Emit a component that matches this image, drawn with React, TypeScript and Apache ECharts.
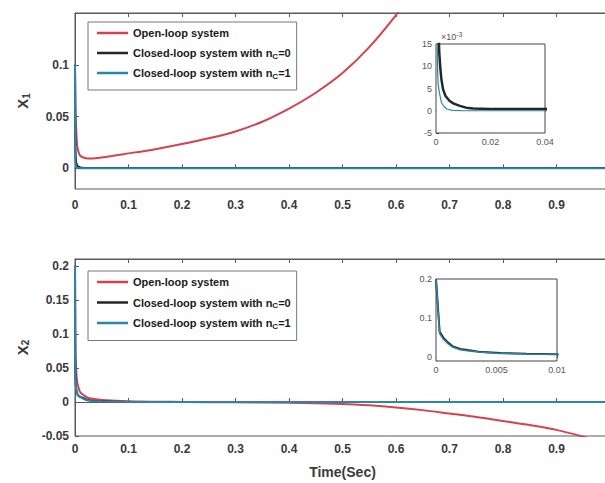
import React, { useEffect, useRef } from "react";
import * as echarts from "echarts";

// ---- data ----
const xTicks = [0, 0.1, 0.2, 0.3, 0.4, 0.5, 0.6, 0.7, 0.8, 0.9, 1];
const y1Ticks = [0, 0.05, 0.1];
const y2Ticks = [-0.05, 0, 0.05, 0.1, 0.15, 0.2];
const inset1XTicks = [0, 0.02, 0.04];
const inset1YTicks = [-0.005, 0, 0.005, 0.01, 0.015];
const inset2XTicks = [0, 0.005, 0.01];
const inset2YTicks = [0, 0.1, 0.2];

const seriesNames = [
  "Open-loop system",
  "Closed-loop system with nC=0",
  "Closed-loop system with nC=1",
];
const legendLabels = [
  "Open-loop system",
  "Closed-loop system with n{s|C}=0",
  "Closed-loop system with n{s|C}=1",
];

// x1 trajectories [t, value]
const openLoopX1 = [
  [0, 0.1], [0.001, 0.06], [0.002, 0.04], [0.004, 0.022], [0.007, 0.015],
  [0.01, 0.012], [0.02, 0.0098], [0.03, 0.0095], [0.05, 0.0105], [0.1, 0.0144],
  [0.15, 0.0185], [0.2, 0.0234], [0.25, 0.029], [0.3, 0.0356], [0.35, 0.045],
  [0.4, 0.0577], [0.45, 0.073], [0.5, 0.092], [0.55, 0.117], [0.6, 0.148], [0.62, 0.163],
];
const closedNc0X1 = [
  [0, 0.1], [0.0004, 0.04], [0.0008, 0.02], [0.0012, 0.013], [0.0016, 0.0095],
  [0.002, 0.007], [0.0026, 0.0048], [0.0035, 0.0033], [0.005, 0.0022], [0.0065, 0.0016],
  [0.0088, 0.0011], [0.011, 0.0007], [0.0136, 0.0005], [0.02, 0.0004], [0.04, 0.0004],
  [0.1, 0.0003], [0.5, 0.0002], [1, 0.0002],
];
const closedNc1X1 = [
  [0, 0.1], [0.0002, 0.05], [0.0004, 0.02], [0.0006, 0.009], [0.0008, 0.006],
  [0.0012, 0.0042], [0.002, 0.0018], [0.003, 0.0009], [0.004, 0.0004], [0.006, 0.0001],
  [0.01, 0], [0.04, 0], [1, 0],
];

// x2 trajectories [t, value]
const openLoopX2 = [
  [0, 0.2], [0.001, 0.08], [0.002, 0.05], [0.004, 0.03], [0.007, 0.02], [0.01, 0.014],
  [0.02, 0.008], [0.03, 0.005], [0.05, 0.003], [0.1, 0.001], [0.2, 0], [0.3, -0.0005],
  [0.4, -0.0012], [0.5, -0.003], [0.55, -0.005], [0.6, -0.008], [0.65, -0.012],
  [0.7, -0.017], [0.75, -0.022], [0.8, -0.028], [0.85, -0.034], [0.9, -0.041],
  [0.95, -0.051], [0.97, -0.056],
];
const closedNc0X2 = [
  [0, 0.2], [0.0003, 0.065], [0.0006, 0.05], [0.001, 0.037], [0.0014, 0.027],
  [0.002, 0.021], [0.0026, 0.018], [0.0035, 0.014], [0.0053, 0.0105], [0.0075, 0.0085],
  [0.01, 0.0075], [0.015, 0.006], [0.02, 0.004], [0.03, 0.002], [0.05, 0.0005],
  [0.1, 0], [1, 0],
];
const closedNc1X2 = [
  [0, 0.2], [0.0003, 0.06], [0.0006, 0.046], [0.001, 0.034], [0.0014, 0.025],
  [0.002, 0.019], [0.0026, 0.016], [0.0035, 0.013], [0.0053, 0.0095], [0.0075, 0.008],
  [0.01, 0.007], [0.015, 0.005], [0.02, 0.003], [0.03, 0.0015], [0.05, 0.0003],
  [0.1, 0], [1, 0],
];

const RED = "#D7414D";
const BLACK = "#262626";
const TEAL = "#2A86A8";
const AXIS = "#5a5a5a";
const FONT = "Arial, 'Liberation Sans', sans-serif";

export default function App() {
  const ref = useRef<HTMLDivElement>(null);

  useEffect(() => {
    if (!ref.current) return;
    const chart = echarts.init(ref.current, undefined, { renderer: "svg" });

    const mainLabel = { color: "#3a3a3a", fontWeight: "bold", fontSize: 12, fontFamily: FONT };
    const insetLabel = { color: "#555", fontSize: 9, fontFamily: FONT };

    const mainX = (grid: number, margin: number, name?: string) => ({
      type: "value",
      gridIndex: grid,
      min: 0,
      max: 1,
      splitLine: { show: false },
      axisLine: { show: true, lineStyle: { color: AXIS } },
      axisTick: { show: true, inside: true, length: 4, lineStyle: { color: AXIS }, customValues: xTicks },
      axisLabel: { ...mainLabel, margin, customValues: xTicks.slice(0, 10), formatter: (v: number) => String(v) },
      name: name || "",
      nameLocation: "middle",
      nameGap: 29,
      nameTextStyle: { color: "#3a3a3a", fontWeight: "bold", fontSize: 14, fontFamily: FONT },
    });
    const topX = (grid: number) => ({
      type: "value",
      gridIndex: grid,
      position: "top",
      min: 0,
      max: 1,
      splitLine: { show: false },
      axisLine: { show: true, lineStyle: { color: AXIS } },
      axisTick: { show: true, inside: true, length: 4, lineStyle: { color: AXIS }, customValues: xTicks },
      axisLabel: { show: false },
    });
    const insetAxis = (grid: number, min: number, max: number, ticks: number[], fmt: (v: number) => string) => ({
      type: "value",
      gridIndex: grid,
      min,
      max,
      splitLine: { show: false },
      axisLine: { show: true, lineStyle: { color: "#444" } },
      axisTick: { show: true, inside: true, length: 3, lineStyle: { color: "#444" }, customValues: ticks },
      axisLabel: { ...insetLabel, margin: 4, customValues: ticks, formatter: fmt },
    });
    const mainY = (grid: number, min: number, max: number, ticks: number[], idx: string) => ({
      type: "value",
      gridIndex: grid,
      min,
      max,
      splitLine: { show: false },
      axisLine: { show: true, lineStyle: { color: AXIS } },
      axisTick: { show: true, inside: true, length: 4, lineStyle: { color: AXIS }, customValues: ticks },
      axisLabel: { ...mainLabel, margin: 6, customValues: ticks, formatter: (v: number) => String(v) },
      name: "{a|X}{b|" + idx + "}",
      nameLocation: "middle",
      nameGap: 44,
      nameRotate: 90,
      nameTextStyle: {
        rich: {
          a: { fontSize: 15, fontWeight: "bold", color: "#3a3a3a", fontFamily: FONT },
          b: { fontSize: 10, fontWeight: "bold", color: "#3a3a3a", fontFamily: FONT, padding: [7, 0, 0, 0] },
        },
      },
    });

    const line = (name: string, color: string, width: number, data: number[][], xi: number, yi: number, z = 2, smooth: number | boolean = false) => ({
      type: "line",
      name,
      data,
      xAxisIndex: xi,
      yAxisIndex: yi,
      showSymbol: false,
      symbol: "none",
      smooth,
      clip: true,
      z,
      lineStyle: { color, width },
      itemStyle: { color },
    });

    const legend = (top: number, gap: number, padBottom: number) => ({
      left: 88,
      top,
      orient: "vertical",
      data: seriesNames,
      icon: "rect",
      itemWidth: 31,
      itemHeight: 2.5,
      itemGap: gap,
      padding: [3.5, 6, padBottom, 9],
      backgroundColor: "#fff",
      borderColor: "#777",
      borderWidth: 1,
      borderRadius: 0,
      selectedMode: false,
      formatter: (n: string) => legendLabels[seriesNames.indexOf(n)],
      textStyle: {
        fontSize: 11,
        fontWeight: "bold",
        color: "#1a1a1a",
        fontFamily: FONT,
        lineHeight: 15,
        rich: { s: { fontSize: 8, fontWeight: "bold", color: "#1a1a1a", fontFamily: FONT, padding: [6, 0, 0, 0] } },
      },
    });

    chart.setOption({
      animation: false,
      backgroundColor: "#fff",
      grid: [
        { left: 75, top: 13, width: 535, height: 176, show: true, borderColor: AXIS, borderWidth: 1, backgroundColor: "transparent" },
        { left: 75, top: 259, width: 535, height: 177, show: true, borderColor: AXIS, borderWidth: 1, backgroundColor: "transparent" },
        { left: 436, top: 44, width: 109, height: 89, show: true, borderColor: "#444", borderWidth: 1, backgroundColor: "#fff", z: 5 },
        { left: 436, top: 279, width: 121, height: 82, show: true, borderColor: "#444", borderWidth: 1, backgroundColor: "#fff", z: 5 },
      ],
      xAxis: [
        mainX(0, 10),
        mainX(1, 7, "Time(Sec)"),
        insetAxis(2, 0, 0.04, inset1XTicks, (v) => String(v)),
        insetAxis(3, 0, 0.01, inset2XTicks, (v) => String(v)),
        topX(0),
        topX(1),
      ],
      yAxis: [
        mainY(0, -0.02, 0.15, y1Ticks, "1"),
        mainY(1, -0.05, 0.21, y2Ticks, "2"),
        insetAxis(2, -0.005, 0.015, inset1YTicks, (v) => String(Math.round(v * 1000))),
        insetAxis(3, -0.01, 0.2, inset2YTicks, (v) => String(v)),
      ],
      legend: [legend(22, 5, 9.5), legend(271, 5.5, 10)],
      graphic: [
        {
          type: "text",
          left: 441,
          top: 31,
          z: 10,
          style: {
            text: "{a|×10}{s|-3}",
            rich: {
              a: { fontSize: 9, fill: "#555", fontFamily: FONT },
              s: { fontSize: 7, fill: "#555", fontFamily: FONT, padding: [0, 0, 5, 0] },
            },
          },
        },
      ],
      series: [
        line(seriesNames[0], RED, 2, openLoopX1, 0, 0, 2, 0.3),
        line(seriesNames[1], BLACK, 2, closedNc0X1, 0, 0),
        line(seriesNames[2], TEAL, 2, closedNc1X1, 0, 0),
        line(seriesNames[0], RED, 2, openLoopX2, 1, 1, 2, 0.3),
        line(seriesNames[1], BLACK, 2, closedNc0X2, 1, 1),
        line(seriesNames[2], TEAL, 2, closedNc1X2, 1, 1),
        line(seriesNames[1], BLACK, 2.5, closedNc0X1, 2, 2, 6),
        line(seriesNames[2], TEAL, 1.2, closedNc1X1, 2, 2, 6),
        line(seriesNames[1], BLACK, 2, closedNc0X2, 3, 3, 6),
        line(seriesNames[2], TEAL, 1.5, closedNc1X2, 3, 3, 6),
      ],
    });

    return () => chart.dispose();
  }, []);

  return (
    <div style={{ position: "fixed", left: 0, top: 0, width: 605, height: 483, overflow: "hidden", background: "#fff" }}>
      <div ref={ref} style={{ width: 640, height: 483 }} />
    </div>
  );
}
